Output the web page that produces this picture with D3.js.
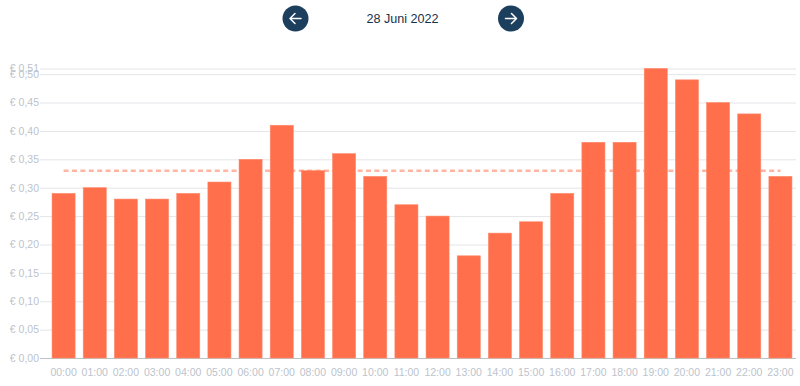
<!DOCTYPE html>
<html>
<head>
<meta charset="utf-8">
<script src="https://cdn.jsdelivr.net/npm/d3@7"></script>
<style>
  html, body { margin: 0; background: #fff; }
  text { font-family: "Liberation Sans", sans-serif; }
</style>
</head>
<body>
<div id="chart"></div>
<script>
// Data
const hours = ["00:00","01:00","02:00","03:00","04:00","05:00","06:00","07:00","08:00","09:00","10:00","11:00",
    "12:00","13:00","14:00","15:00","16:00","17:00","18:00","19:00","20:00","21:00","22:00","23:00"];
const prices = [0.29,0.30,0.28,0.28,0.29,0.31,0.35,0.41,0.33,0.36,0.32,0.27,
    0.25,0.18,0.22,0.24,0.29,0.38,0.38,0.51,0.49,0.45,0.43,0.32];
const priceTicks = [0,0.05,0.10,0.15,0.20,0.25,0.30,0.35,0.40,0.45,0.50,0.51];
const average = 0.33;
const dateLabel = "28 Juni 2022";

const width = 800, height = 386;
const margin = {top: 68.5, right: 4, bottom: 28, left: 40};
const plotLeft = 48;

const svg = d3.select("#chart")
    .append("svg")
    .attr("width", width)
    .attr("height", height)
    .style("display", "block");

// Scales
const x = d3.scaleBand()
    .domain(hours)
    .range([plotLeft, width - margin.right])
    .paddingInner(0.26)
    .paddingOuter(0.13);

const y = d3.scaleLinear()
    .domain([0, 0.51])
    .range([height - margin.bottom, margin.top]);

const euro = d => "€ " + d3.format(".2f")(d).replace(".", ",");

// Y axis with gridlines
const yAxis = svg.append("g")
    .attr("transform", `translate(${margin.left},0)`)
    .call(d3.axisLeft(y)
        .tickValues(priceTicks)
        .tickFormat(euro)
        .tickSize(-(width - margin.left - margin.right))
        .tickPadding(1));
yAxis.select(".domain").remove();
yAxis.selectAll("line")
    .attr("stroke", d => d === 0 ? "#bfc2c6" : "#e4e5e8")
    .attr("stroke-width", 1);
yAxis.selectAll("text")
    .attr("fill", "#bcc3cc")
    .attr("font-size", 10.5);

// Average line, sits behind the bars
svg.append("line")
    .attr("x1", x(hours[0]) + x.bandwidth() / 2)
    .attr("x2", x(hours[hours.length - 1]) + x.bandwidth() / 2)
    .attr("y1", y(average))
    .attr("y2", y(average))
    .attr("stroke", "#ffb5a1")
    .attr("stroke-width", 2.4)
    .attr("stroke-dasharray", "5,3.4");

// Bars
svg.selectAll("rect.bar")
    .data(prices)
    .join("rect")
    .attr("class", "bar")
    .attr("x", (d, i) => x(hours[i]))
    .attr("y", d => y(d))
    .attr("width", x.bandwidth())
    .attr("height", d => y(0) - y(d))
    .attr("fill", "#ff6f4b")
    .attr("stroke", "#ff8a6c")
    .attr("stroke-width", 0.6);

// X axis
const xAxis = svg.append("g")
    .attr("transform", `translate(0,${height - margin.bottom})`)
    .call(d3.axisBottom(x).tickSize(0).tickPadding(10.5));
xAxis.select(".domain").remove();
xAxis.selectAll("text")
    .attr("fill", "#bcc3cc")
    .attr("font-size", 10.5);

// Date navigation
const navColor = "#1d3f5e";
svg.append("text")
    .attr("x", 402.5)
    .attr("y", 23)
    .attr("text-anchor", "middle")
    .attr("font-size", 12.6)
    .attr("fill", "#17324b")
    .text(dateLabel);

[{cx: 295.5, dir: -1}, {cx: 511, dir: 1}].forEach(b => {
    const g = svg.append("g").attr("transform", `translate(${b.cx},18.5)`);
    g.append("circle").attr("r", 13).attr("fill", navColor);
    g.append("path")
        .attr("d", `M${-5.5 * b.dir},0H${5.5 * b.dir}M${0.5 * b.dir},-5L${5.5 * b.dir},0L${0.5 * b.dir},5`)
        .attr("fill", "none")
        .attr("stroke", "#fff")
        .attr("stroke-width", 1.5)
        .attr("stroke-linecap", "round")
        .attr("stroke-linejoin", "round");
});
</script>
</body>
</html>
